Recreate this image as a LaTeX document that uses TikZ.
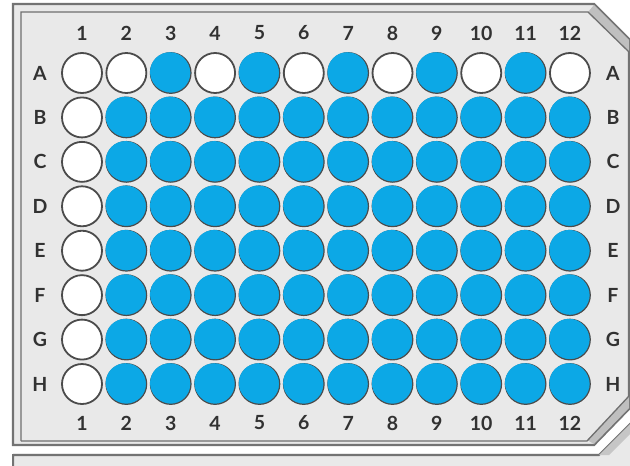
\documentclass[tikz,border=0pt]{standalone}
\usepackage{fontspec}
\setmainfont{Lato}
\usetikzlibrary{calc}

\definecolor{wellblue}{RGB}{12,168,230}
\definecolor{platefill}{RGB}{233,233,233}
\definecolor{rimgray}{RGB}{75,75,75}
\definecolor{edgegray}{RGB}{115,115,115}
\definecolor{labelgray}{RGB}{50,50,50}

\tikzset{
  emptywell/.style={circle, draw=rimgray, line width=1.8pt, fill=white, minimum size=40pt, inner sep=0pt},
  fullwell/.style={circle, draw=rimgray, line width=1.2pt, fill=wellblue, minimum size=40.6pt, inner sep=0pt},
  platelabel/.style={font=\fontsize{19.5}{20}\selectfont\bfseries, text=labelgray, inner sep=0pt}
}

\begin{document}
\begin{tikzpicture}[x=1pt,y=-1pt]
\useasboundingbox (0,0) rectangle (630,466);
\clip (0,0) rectangle (630,466);

% Skirt under the plate
\fill[platefill] (13,453) -- (600,453) -- (640,413) -- (640,470) -- (13,470) -- cycle;
\draw[edgegray, line width=2pt] (13,470) -- (13,455) -- (599,455) -- (640,414);
\fill[gray!45] (599,455) -- (640,414) -- (640,424) -- (609,455) -- cycle;

% Plate body
\draw[edgegray, line width=2.2pt, fill=platefill]
  (13,4) -- (594,4) -- (629,39) -- (629,409) -- (594,445) -- (13,445) -- cycle;

% Corner bevels
\fill[gray!50] (594,5) -- (629,40) -- (629,52) -- (588,12) -- cycle;
\fill[gray!50] (594,444) -- (629,408) -- (629,396) -- (587,440) -- cycle;

% Inner ledge
\draw[rimgray!80, line width=1.3pt]
  (21,441) -- (21,12) -- (588,12) -- (629,52);
\draw[rimgray!80, line width=1.3pt]
  (629,396) -- (587,441) -- (21,441);

% Wells
\foreach \r [count=\i] in {A,B,C,D,E,F,G,H}{
  \foreach \c in {1,...,12}{
    \pgfmathsetmacro{\wx}{82+44.36*(\c-1)}
    \pgfmathsetmacro{\wy}{73+44.43*(\i-1)}
    \pgfmathtruncatemacro{\isblue}{(\c>1)*((\i>1)+(\i==1)*(mod(\c,2)==1))}
    \ifnum\isblue=1
      \node[fullwell] (\r\c) at (\wx,\wy) {};
      \fill[wellblue] ($(\r\c.center)+(-0.9,-1)$) circle (19.8pt);
    \else
      \node[emptywell] (\r\c) at (\wx,\wy) {};
    \fi
  }
}

% Column numbers
\foreach \c in {1,...,12}{
  \node[platelabel] (top\c) at ($(A\c)+(0,-40)$) {\c};
  \node[platelabel] (bot\c) at ($(H\c)+(0,39)$) {\c};
}

% Row letters
\foreach \r in {A,B,C,D,E,F,G,H}{
  \node[platelabel] (left\r) at ($(\r1)+(-42,0)$) {\r};
  \node[platelabel] (right\r) at ($(\r12)+(43,0)$) {\r};
}
\end{tikzpicture}
\end{document}
